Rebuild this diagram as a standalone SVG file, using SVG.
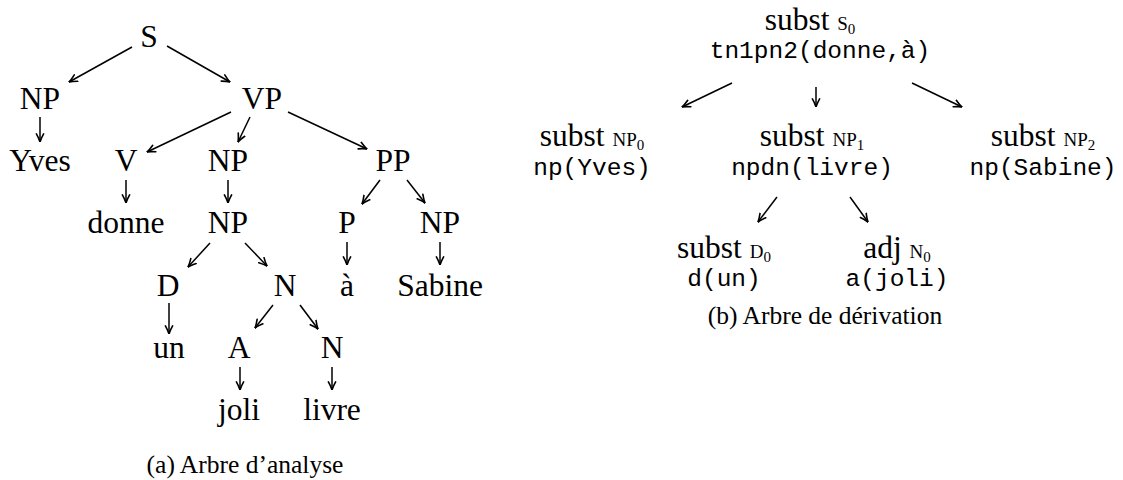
<svg xmlns="http://www.w3.org/2000/svg" width="1123" height="480" viewBox="0 0 1123 480">
<defs>
<style>
text{fill:#000}
.t{font-family:"Liberation Serif","Times New Roman",serif;font-size:31.5px;text-anchor:middle}
.m{font-family:"Liberation Mono","Courier New",monospace;font-size:24.5px;text-anchor:middle}
.sv{font-family:"Liberation Serif","Times New Roman",serif;font-size:31.5px}
.sm{font-family:"Liberation Serif","Times New Roman",serif;font-size:19px}
.sb{font-family:"Liberation Serif","Times New Roman",serif;font-size:15px}
.cap{font-family:"Liberation Serif","Times New Roman",serif;font-size:25.5px;text-anchor:middle}
.e line{stroke:#000;stroke-width:1.5;marker-end:url(#ah)}
</style>
<marker id="ah" viewBox="0 0 10 10" refX="9.5" refY="5" markerWidth="9.5" markerHeight="9.5" markerUnits="userSpaceOnUse" orient="auto">
<path d="M1,1.2 Q6,4 9.5,5 Q6,6 1,8.8" fill="none" stroke="#000" stroke-width="1.7" stroke-linecap="round"/>
</marker>
</defs>
<rect width="1123" height="480" fill="#fff"/>

<g id="tree-a">
<g id="a-S"><text class="t" x="149" y="47">S</text></g>
<g id="a-NP1"><text class="t" x="40" y="109">NP</text></g>
<g id="a-VP"><text class="t" x="262" y="109">VP</text></g>
<g id="a-Yves"><text class="t" x="40" y="171">Yves</text></g>
<g id="a-V"><text class="t" x="126" y="171">V</text></g>
<g id="a-NP2"><text class="t" x="228" y="171">NP</text></g>
<g id="a-PP"><text class="t" x="393" y="171">PP</text></g>
<g id="a-donne"><text class="t" x="126" y="233">donne</text></g>
<g id="a-NP3"><text class="t" x="228" y="233">NP</text></g>
<g id="a-P"><text class="t" x="347" y="233">P</text></g>
<g id="a-NP4"><text class="t" x="440" y="233">NP</text></g>
<g id="a-D"><text class="t" x="168" y="296">D</text></g>
<g id="a-N1"><text class="t" x="285" y="296">N</text></g>
<g id="a-a"><text class="t" x="347" y="296">à</text></g>
<g id="a-Sabine"><text class="t" x="440" y="296">Sabine</text></g>
<g id="a-un"><text class="t" x="169" y="358">un</text></g>
<g id="a-A"><text class="t" x="239" y="358">A</text></g>
<g id="a-N2"><text class="t" x="332" y="358">N</text></g>
<g id="a-joli"><text class="t" x="239" y="420">joli</text></g>
<g id="a-livre"><text class="t" x="332" y="420">livre</text></g>
<g id="a-caption"><text class="cap" x="245" y="473">(a) Arbre d’analyse</text></g>
</g>

<g id="tree-b">
<g id="b-S0"><text class="m" x="810" y="30"><tspan class="sv">subst </tspan><tspan class="sm">S</tspan><tspan class="sb" dy="4">0</tspan></text>
<text class="m" x="820" y="58">tn1pn2(donne,à)</text></g>
<g id="b-NP0"><text class="m" x="592" y="146"><tspan class="sv">subst </tspan><tspan class="sm">NP</tspan><tspan class="sb" dy="4">0</tspan></text>
<text class="m" x="592" y="175">np(Yves)</text></g>
<g id="b-NP1"><text class="m" x="812" y="146"><tspan class="sv">subst </tspan><tspan class="sm">NP</tspan><tspan class="sb" dy="4">1</tspan></text>
<text class="m" x="812" y="175">npdn(livre)</text></g>
<g id="b-NP2"><text class="m" x="1043" y="146"><tspan class="sv">subst </tspan><tspan class="sm">NP</tspan><tspan class="sb" dy="4">2</tspan></text>
<text class="m" x="1043" y="175">np(Sabine)</text></g>
<g id="b-D0"><text class="m" x="724" y="258"><tspan class="sv">subst </tspan><tspan class="sm">D</tspan><tspan class="sb" dy="4">0</tspan></text>
<text class="m" x="724" y="286">d(un)</text></g>
<g id="b-N0"><text class="m" x="897" y="258"><tspan class="sv">adj </tspan><tspan class="sm">N</tspan><tspan class="sb" dy="4">0</tspan></text>
<text class="m" x="897" y="286">a(joli)</text></g>
<g id="b-caption"><text class="cap" x="825" y="324">(b) Arbre de dérivation</text></g>
</g>

<g id="connectors" class="e">
<line x1="132" y1="47" x2="69" y2="82"/>
<line x1="167" y1="46" x2="230" y2="82"/>
<line x1="40" y1="117" x2="40" y2="142"/>
<line x1="231" y1="112" x2="147" y2="152"/>
<line x1="250" y1="117" x2="238" y2="142"/>
<line x1="288" y1="112" x2="367" y2="149"/>
<line x1="126" y1="180" x2="126" y2="203"/>
<line x1="228" y1="180" x2="228" y2="203"/>
<line x1="380" y1="180" x2="362" y2="204"/>
<line x1="407" y1="180" x2="425" y2="203"/>
<line x1="210" y1="243" x2="188" y2="267"/>
<line x1="245" y1="243" x2="267" y2="266"/>
<line x1="347" y1="242" x2="347" y2="265"/>
<line x1="440" y1="242" x2="440" y2="265"/>
<line x1="169" y1="303" x2="169" y2="334"/>
<line x1="273" y1="305" x2="255" y2="328"/>
<line x1="300" y1="305" x2="318" y2="329"/>
<line x1="240" y1="367" x2="240" y2="390"/>
<line x1="332" y1="367" x2="332" y2="390"/>
<line x1="732" y1="83" x2="682" y2="107"/>
<line x1="816" y1="87" x2="816" y2="107"/>
<line x1="912" y1="83" x2="962" y2="107"/>
<line x1="777" y1="197" x2="758" y2="222"/>
<line x1="850" y1="197" x2="868" y2="222"/>
</g>
</svg>
